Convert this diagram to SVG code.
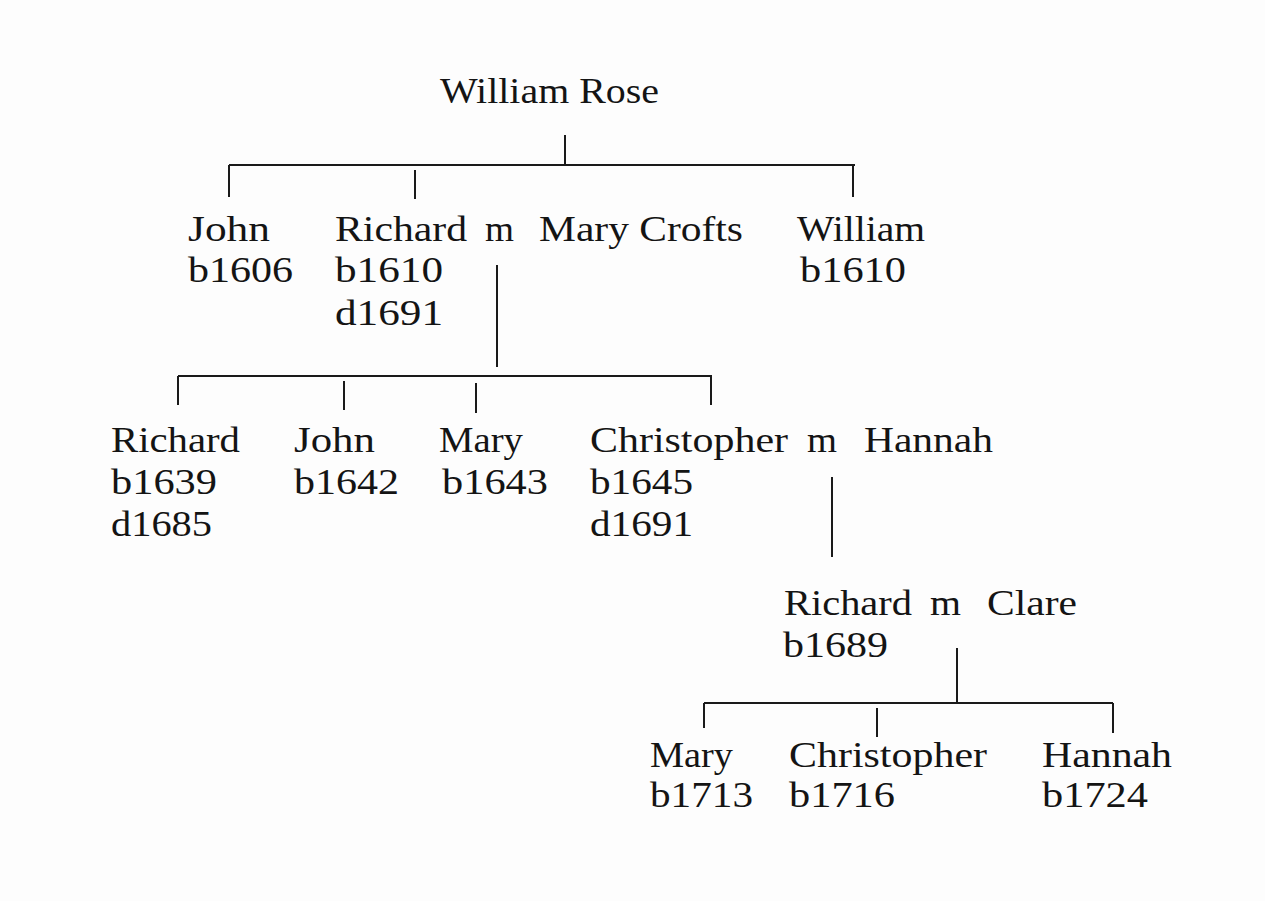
<svg xmlns="http://www.w3.org/2000/svg" width="1265" height="901" viewBox="0 0 1265 901">
<style>
text{font-family:"Liberation Serif","Times New Roman",serif;font-size:36px;fill:#141414;}
.ln{stroke:#1a1a1a;stroke-width:2;fill:none;}
</style>
<rect width="1265" height="901" fill="#fdfdfd"/>
<g id="connectors">
<path class="ln" d="M565 135V165M229 165H855M229 165V197M415 170V199M853 165V197"/>
<path class="ln" d="M497 265V367M178 376H712M178 376V405M344 381V410M476 383V413M711 376V405"/>
<path class="ln" d="M832 477V557"/>
<path class="ln" d="M957 648V703M704 703H1113M704 703V728M877 708V737M1113 703V733"/>
</g>
<g id="william-rose"><text x="440" y="103" textLength="219" lengthAdjust="spacingAndGlyphs">William Rose</text></g>
<g id="john-1606"><text x="188" y="241" textLength="82" lengthAdjust="spacingAndGlyphs">John</text><text x="188" y="282" textLength="105" lengthAdjust="spacingAndGlyphs">b1606</text></g>
<g id="richard-1610"><text x="335" y="241" textLength="132" lengthAdjust="spacingAndGlyphs">Richard</text><text x="485" y="241" textLength="29" lengthAdjust="spacingAndGlyphs">m</text><text x="539" y="241" textLength="204" lengthAdjust="spacingAndGlyphs">Mary Crofts</text><text x="335" y="282" textLength="108" lengthAdjust="spacingAndGlyphs">b1610</text><text x="335" y="325" textLength="108" lengthAdjust="spacingAndGlyphs">d1691</text></g>
<g id="william-1610"><text x="797" y="241" textLength="128" lengthAdjust="spacingAndGlyphs">William</text><text x="800" y="282" textLength="106" lengthAdjust="spacingAndGlyphs">b1610</text></g>
<g id="richard-1639"><text x="111" y="452" textLength="129" lengthAdjust="spacingAndGlyphs">Richard</text><text x="111" y="494" textLength="106" lengthAdjust="spacingAndGlyphs">b1639</text><text x="111" y="536" textLength="101" lengthAdjust="spacingAndGlyphs">d1685</text></g>
<g id="john-1642"><text x="294" y="452" textLength="81" lengthAdjust="spacingAndGlyphs">John</text><text x="294" y="494" textLength="105" lengthAdjust="spacingAndGlyphs">b1642</text></g>
<g id="mary-1643"><text x="439" y="452" textLength="84" lengthAdjust="spacingAndGlyphs">Mary</text><text x="442" y="494" textLength="106" lengthAdjust="spacingAndGlyphs">b1643</text></g>
<g id="christopher-1645"><text x="590" y="452" textLength="198" lengthAdjust="spacingAndGlyphs">Christopher</text><text x="807" y="452" textLength="30" lengthAdjust="spacingAndGlyphs">m</text><text x="864" y="452" textLength="129" lengthAdjust="spacingAndGlyphs">Hannah</text><text x="590" y="494" textLength="103" lengthAdjust="spacingAndGlyphs">b1645</text><text x="590" y="536" textLength="103" lengthAdjust="spacingAndGlyphs">d1691</text></g>
<g id="richard-1689"><text x="784" y="615" textLength="128" lengthAdjust="spacingAndGlyphs">Richard</text><text x="930" y="615" textLength="31" lengthAdjust="spacingAndGlyphs">m</text><text x="987" y="615" textLength="90" lengthAdjust="spacingAndGlyphs">Clare</text><text x="783" y="657" textLength="105" lengthAdjust="spacingAndGlyphs">b1689</text></g>
<g id="mary-1713"><text x="650" y="767" textLength="83" lengthAdjust="spacingAndGlyphs">Mary</text><text x="650" y="807" textLength="103" lengthAdjust="spacingAndGlyphs">b1713</text></g>
<g id="christopher-1716"><text x="789" y="767" textLength="198" lengthAdjust="spacingAndGlyphs">Christopher</text><text x="789" y="807" textLength="106" lengthAdjust="spacingAndGlyphs">b1716</text></g>
<g id="hannah-1724"><text x="1042" y="767" textLength="130" lengthAdjust="spacingAndGlyphs">Hannah</text><text x="1042" y="807" textLength="106" lengthAdjust="spacingAndGlyphs">b1724</text></g>
</svg>
